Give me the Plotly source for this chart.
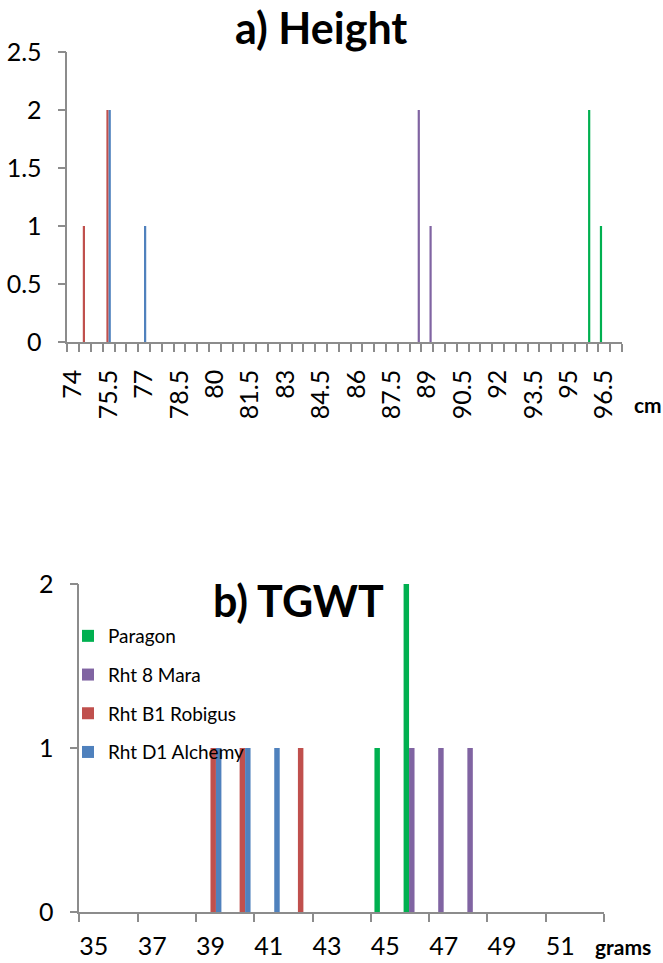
import plotly.graph_objects as go

# ---------------- data ----------------
series_names = ["Paragon", "Rht 8 Mara", "Rht B1 Robigus", "Rht D1 Alchemy"]
series_colors = {"Paragon": "#00B050", "Rht 8 Mara": "#8064A2",
                 "Rht B1 Robigus": "#C0504D", "Rht D1 Alchemy": "#4F81BD"}

# a) Height (cm) categories
height_cm = [74, 74.5, 75, 75.5, 76, 76.5, 77, 77.5, 78, 78.5, 79, 79.5, 80, 80.5,
             81, 81.5, 82, 82.5, 83, 83.5, 84, 84.5, 85, 85.5, 86, 86.5, 87, 87.5,
             88, 88.5, 89, 89.5, 90, 90.5, 91, 91.5, 92, 92.5, 93, 93.5, 94, 94.5,
             95, 95.5, 96, 96.5, 97]
height_labels = [74, 75.5, 77, 78.5, 80, 81.5, 83, 84.5, 86, 87.5, 89, 90.5, 92,
                 93.5, 95, 96.5]
paragon_h = [0, 0, 0, 0, 0, 0, 0, 0, 0, 0, 0, 0, 0, 0, 0, 0, 0, 0, 0, 0, 0, 0, 0, 0,
             0, 0, 0, 0, 0, 0, 0, 0, 0, 0, 0, 0, 0, 0, 0, 0, 0, 0, 0, 0, 2, 1, 0]
mara_h = [0, 0, 0, 0, 0, 0, 0, 0, 0, 0, 0, 0, 0, 0, 0, 0, 0, 0, 0, 0, 0, 0, 0, 0,
          0, 0, 0, 0, 0, 2, 1, 0, 0, 0, 0, 0, 0, 0, 0, 0, 0, 0, 0, 0, 0, 0, 0]
robigus_h = [0, 1, 0, 2, 0, 0, 0, 0, 0, 0, 0, 0, 0, 0, 0, 0, 0, 0, 0, 0, 0, 0, 0, 0,
             0, 0, 0, 0, 0, 0, 0, 0, 0, 0, 0, 0, 0, 0, 0, 0, 0, 0, 0, 0, 0, 0, 0]
alchemy_h = [0, 0, 0, 2, 0, 0, 1, 0, 0, 0, 0, 0, 0, 0, 0, 0, 0, 0, 0, 0, 0, 0, 0, 0,
             0, 0, 0, 0, 0, 0, 0, 0, 0, 0, 0, 0, 0, 0, 0, 0, 0, 0, 0, 0, 0, 0, 0]
height_y_ticks = [0, 0.5, 1, 1.5, 2, 2.5]
height_y_text = ["0", "0.5", "1", "1.5", "2", "2.5"]

# b) TGWT (grams) categories
tgwt_g = [35, 36, 37, 38, 39, 40, 41, 42, 43, 44, 45, 46, 47, 48, 49, 50, 51, 52]
tgwt_labels = [35, 37, 39, 41, 43, 45, 47, 49, 51]
paragon_g = [0, 0, 0, 0, 0, 0, 0, 0, 0, 0, 1, 2, 0, 0, 0, 0, 0, 0]
mara_g = [0, 0, 0, 0, 0, 0, 0, 0, 0, 0, 0, 1, 1, 1, 0, 0, 0, 0]
robigus_g = [0, 0, 0, 0, 1, 1, 0, 1, 0, 0, 0, 0, 0, 0, 0, 0, 0, 0]
alchemy_g = [0, 0, 0, 0, 1, 1, 1, 0, 0, 0, 0, 0, 0, 0, 0, 0, 0, 0]
tgwt_y_ticks = [0, 1, 2]
tgwt_y_text = ["0", "1", "2"]

# ---------------- figure ----------------
W, H = 663, 963
FONT = "Lato"
GRAY = "#8C8C8C"

fig = go.Figure()

top_order = [("Paragon", paragon_h), ("Rht B1 Robigus", robigus_h),
             ("Rht D1 Alchemy", alchemy_h), ("Rht 8 Mara", mara_h)]
for name, vals in top_order:
    fig.add_trace(go.Bar(x=height_cm, y=vals, name=name, xaxis="x", yaxis="y",
                         marker=dict(color=series_colors[name], line=dict(width=0)),
                         showlegend=False, legendgroup=name))

bottom_order = [("Paragon", paragon_g), ("Rht 8 Mara", mara_g),
                ("Rht B1 Robigus", robigus_g), ("Rht D1 Alchemy", alchemy_g)]
for name, vals in bottom_order:
    fig.add_trace(go.Bar(x=tgwt_g, y=vals, name=name, xaxis="x2", yaxis="y2",
                         marker=dict(color=series_colors[name], line=dict(width=0)),
                         showlegend=True, legendgroup=name))


def px_x(p):
    return p / W


def px_y(p):
    return 1 - p / H


tickfont = dict(family=FONT, size=25, color="black")

common_axis = dict(showline=True, linecolor=GRAY, linewidth=1.5,
                   showgrid=False, zeroline=False, automargin=False)

fig.update_layout(
    template="none",
    width=W, height=H,
    margin=dict(l=0, r=0, t=0, b=0, pad=0),
    paper_bgcolor="white", plot_bgcolor="white",
    barmode="group", bargap=0.25, bargroupgap=0,
    font=dict(family=FONT, color="black"),
    xaxis=dict(
        domain=[px_x(67.3), px_x(622)], anchor="y",
        range=[73.75, 97.25],
        tickmode="array", tickvals=height_labels,
        ticktext=[str(v) for v in height_labels],
        tickangle=-90, tickfont=tickfont,
        ticks="outside", ticklen=8, tickcolor="rgba(0,0,0,0)",
        ticklabelstandoff=8,
        minor=dict(ticks="outside", ticklen=8, tickcolor=GRAY, tickwidth=1.5,
                   tickmode="linear", tick0=73.75, dtick=0.5, showgrid=False),
        **common_axis,
    ),
    yaxis=dict(
        domain=[px_y(342), px_y(52)], anchor="x",
        range=[0, 2.5],
        tickmode="array", tickvals=height_y_ticks, ticktext=height_y_text,
        tickfont=tickfont,
        ticks="outside", ticklen=8, tickcolor=GRAY, tickwidth=1.5,
        ticklabelstandoff=11,
        **common_axis,
    ),
    xaxis2=dict(
        domain=[px_x(79.3), px_x(604)], anchor="y2",
        range=[34.5, 52.5],
        tickmode="array", tickvals=tgwt_labels,
        ticktext=[str(v) for v in tgwt_labels],
        tickangle=0, tickfont=tickfont,
        ticks="outside", ticklen=8, tickcolor="rgba(0,0,0,0)",
        ticklabelstandoff=3,
        minor=dict(ticks="outside", ticklen=8, tickcolor=GRAY, tickwidth=1.5,
                   tickmode="linear", tick0=34.5, dtick=2, showgrid=False),
        **common_axis,
    ),
    yaxis2=dict(
        domain=[px_y(912), px_y(584)], anchor="x2",
        range=[0, 2],
        tickmode="array", tickvals=tgwt_y_ticks, ticktext=tgwt_y_text,
        tickfont=tickfont,
        ticks="outside", ticklen=8, tickcolor=GRAY, tickwidth=1.5,
        ticklabelstandoff=11,
        **common_axis,
    ),
    legend=dict(
        x=px_x(68), y=px_y(617), xanchor="left", yanchor="top",
        bgcolor="rgba(0,0,0,0)", borderwidth=0,
        font=dict(family=FONT, size=19, color="black"),
        traceorder="grouped", tracegroupgap=11, itemwidth=30,
    ),
    annotations=[
        dict(text="<b>a) Height</b>", x=px_x(321), y=px_y(28), xref="paper", yref="paper",
             showarrow=False, xanchor="center", yanchor="middle",
             font=dict(family=FONT, size=43, color="black")),
        dict(text="<b>b) TGWT</b>", x=px_x(298), y=px_y(600), xref="paper", yref="paper",
             showarrow=False, xanchor="center", yanchor="middle",
             font=dict(family=FONT, size=43, color="black")),
        dict(text="<b>cm</b>", x=px_x(632), y=px_y(405), xref="paper", yref="paper",
             showarrow=False, xanchor="left", yanchor="middle",
             font=dict(family=FONT, size=21, color="black")),
        dict(text="<b>grams</b>", x=px_x(593), y=px_y(946), xref="paper", yref="paper",
             showarrow=False, xanchor="left", yanchor="middle",
             font=dict(family=FONT, size=21, color="black")),
    ],
)

fig.write_html(
    "out.html",
    config={"displayModeBar": False},
    post_script="document.body.style.margin='0';document.body.style.padding='0';"
                "document.documentElement.style.overflow='hidden';",
)
